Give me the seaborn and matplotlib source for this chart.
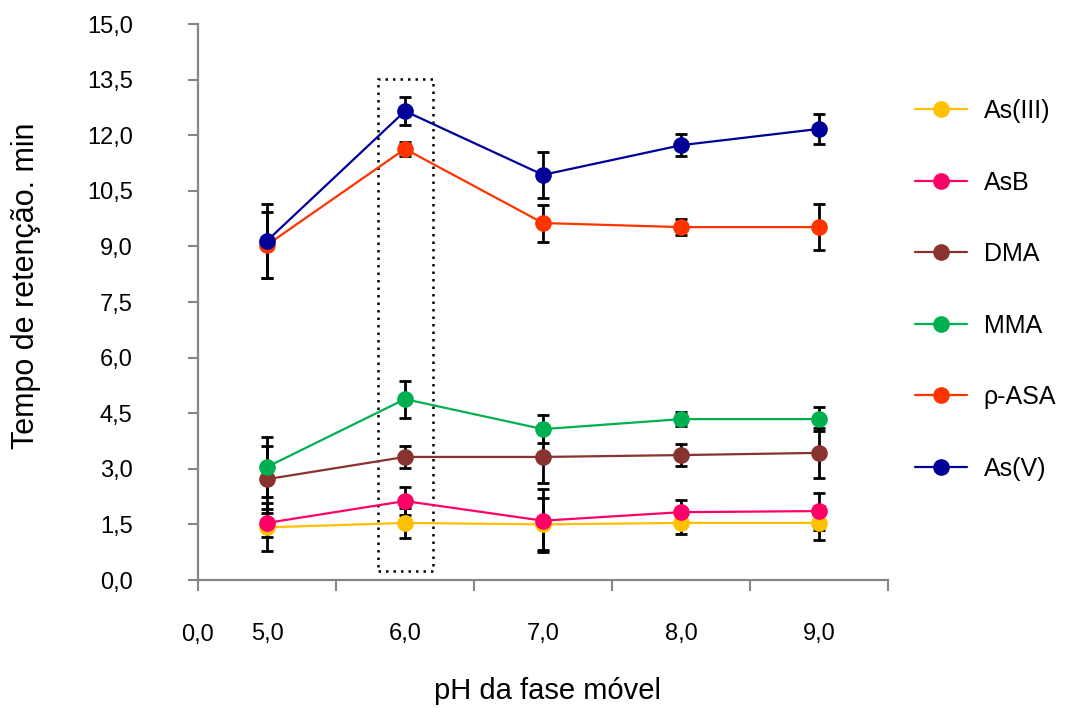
import matplotlib
matplotlib.use("Agg")
import matplotlib.pyplot as plt
from matplotlib.lines import Line2D
from matplotlib.patches import Rectangle
import seaborn as sns
import pandas as pd
import numpy as np

# ---- data ----
ph_labels = ["5,0", "6,0", "7,0", "8,0", "9,0"]
species = ["As(III)", "AsB", "DMA", "MMA", "ρ-ASA", "As(V)"]
as3 = [1.42, 1.54, 1.50, 1.54, 1.54]
as3_err = [0.65, 0.40, 0.70, 0.30, 0.46]
asb = [1.54, 2.13, 1.60, 1.83, 1.86]
asb_err = [0.38, 0.38, 0.85, 0.33, 0.50]
dma = [2.72, 3.32, 3.32, 3.37, 3.43]
dma_err = [0.90, 0.30, 0.70, 0.30, 0.68]
mma = [3.05, 4.88, 4.07, 4.34, 4.34]
mma_err = [0.80, 0.50, 0.38, 0.18, 0.33]
pasa = [9.04, 11.63, 9.63, 9.52, 9.52]
pasa_err = [0.90, 0.20, 0.50, 0.22, 0.62]
as5 = [9.15, 12.65, 10.93, 11.73, 12.17]
as5_err = [1.00, 0.38, 0.62, 0.30, 0.40]

colors = ["#FFC000", "#FF0066", "#893331", "#00B050", "#FF3300", "#000099"]
values = [as3, asb, dma, mma, pasa, as5]
errors = [as3_err, asb_err, dma_err, mma_err, pasa_err, as5_err]

rows = []
for sp, vals, errs in zip(species, values, errors):
    for i, (v, e) in enumerate(zip(vals, errs)):
        rows.append({"idx": i, "species": sp, "val": v, "err": e})
df = pd.DataFrame(rows)

sns.set_style("white")
plt.rcParams["font.family"] = ["Liberation Sans", "DejaVu Sans"]
plt.rcParams["text.color"] = "black"
plt.rcParams["axes.labelcolor"] = "black"

fig = plt.figure(figsize=(10.69, 7.08), dpi=100)
ax = fig.add_axes([198 / 1069, (708 - 580) / 708, (888 - 198) / 1069, (580 - 24) / 708])

# error bars (behind)
for sp in species:
    d = df[df.species == sp]
    ax.errorbar(d["idx"], d["val"], yerr=d["err"], fmt="none", ecolor="black",
                elinewidth=2, capsize=4, capthick=2, zorder=1)

palette = dict(zip(species, colors))
sns.lineplot(data=df, x="idx", y="val", hue="species", hue_order=species,
             palette=palette, marker="o", markersize=12, markeredgewidth=0,
             linewidth=1.6, legend=False, ax=ax, zorder=3)

# dotted highlight box
ax.add_patch(Rectangle((0.805, 0.24), 0.395, 13.27, fill=False, linestyle=(0, (1, 2)),
                       linewidth=1.8, edgecolor="black", clip_on=False, zorder=2))

ax.set_xlim(-0.5, 4.5)
ax.set_ylim(0, 15)
yt = np.arange(0, 15.01, 1.5)
ax.set_yticks(yt)
ax.set_yticklabels([f"{v:.1f}".replace(".", ",") for v in yt], fontsize=17)
ax.set_xticks(np.arange(-0.5, 4.51, 1.0))
ax.set_xticklabels(["0,0", "", "", "", "", ""], fontsize=17)
ax.set_xticks(np.arange(0, 5), minor=True)
ax.set_xticklabels(ph_labels, minor=True, fontsize=17)
ax.tick_params(axis="x", which="major", direction="out", length=8, width=1.5,
               color="#868686", labelcolor="black", pad=24, bottom=True)
ax.tick_params(axis="x", which="minor", length=0, pad=31, labelcolor="black")
ax.tick_params(axis="y", direction="out", length=7, width=1.5, color="#868686",
               labelcolor="black", pad=40, left=True)

for s in ["top", "right"]:
    ax.spines[s].set_visible(False)
for s in ["left", "bottom"]:
    ax.spines[s].set_color("#868686")
    ax.spines[s].set_linewidth(1.6)

ax.set_xlabel("pH da fase móvel", fontsize=21)
ax.xaxis.set_label_coords(0.507, -0.175)
ax.set_ylabel("Tempo de retenção. min", fontsize=22)
ax.yaxis.set_label_coords(-0.228, 0.53)

handles = [Line2D([0], [0], color=c, lw=1.6, marker="o", markersize=12,
                  markeredgewidth=0) for c in colors]
ax.legend(handles, species, loc="center left", bbox_to_anchor=(1.039, 0.522),
          frameon=False, fontsize=18, handlelength=2.1, handletextpad=0.65,
          labelspacing=1.9, borderpad=0, borderaxespad=0)

fig.savefig("out.png", dpi=100)
